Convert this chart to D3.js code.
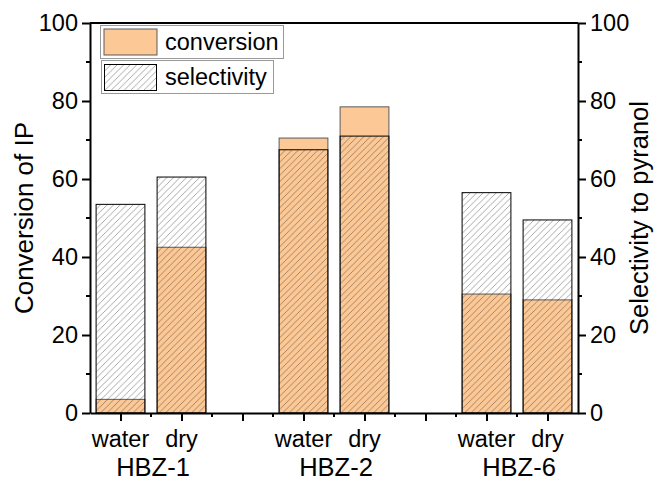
<!DOCTYPE html>
<html>
<head>
<meta charset="utf-8">
<script src="https://cdn.jsdelivr.net/npm/d3@7/dist/d3.min.js"></script>
<style>
  html, body { margin: 0; padding: 0; background: #fff; }
  svg { display: block; }
  text { font-family: "Liberation Sans", Arial, sans-serif; fill: #000; }
</style>
</head>
<body>
<svg id="chart" width="654" height="480"></svg>
<script>
const samples = ["water", "dry", "water", "dry", "water", "dry"];
const positions = [1, 2, 4, 5, 7, 8];
const groups = ["HBZ-1", "HBZ-2", "HBZ-6"];
const groupCenters = [1.5, 4.5, 7.5];
const conversion = [3.5, 42.5, 70.5, 78.5, 30.5, 29.0];
const selectivity = [53.5, 60.5, 67.5, 71.0, 56.5, 49.5];
const yTicks = [0, 20, 40, 60, 80, 100];

const svg = d3.select("#chart");
const L = 90, R = 578, T = 23, B = 413;
const x = d3.scaleLinear().domain([0.5, 8.5]).range([L, R]);
const y = d3.scaleLinear().domain([0, 100]).range([B, T]);
const barW = x(0.8) - x(0);

const defs = svg.append("defs");
const pat = defs.append("pattern")
  .attr("id", "hatch").attr("patternUnits", "userSpaceOnUse")
  .attr("width", 6.5).attr("height", 6.5);
pat.append("path")
  .attr("d", "M-1,7.5 L7.5,-1 M-1,1 L1,-1 M5.5,7.5 L7.5,5.5")
  .attr("stroke", "rgba(0,0,0,0.38)").attr("stroke-width", 0.9).attr("fill", "none");

const g = svg.append("g");

// conversion bars
g.selectAll("rect.conv").data(conversion).join("rect")
  .attr("class", "conv")
  .attr("x", (d, i) => x(positions[i]) - barW / 2)
  .attr("width", barW)
  .attr("y", d => y(d))
  .attr("height", d => y(0) - y(d))
  .attr("fill", "#FCC896")
  .attr("stroke", "#5a5a5a").attr("stroke-width", 1);

// selectivity bars
g.selectAll("rect.sel").data(selectivity).join("rect")
  .attr("class", "sel")
  .attr("x", (d, i) => x(positions[i]) - barW / 2)
  .attr("width", barW)
  .attr("y", d => y(d))
  .attr("height", d => y(0) - y(d))
  .attr("fill", "url(#hatch)")
  .attr("stroke", "#000").attr("stroke-width", 1);

// axes
const fs = 23.5;
const leftAxis = d3.axisLeft(y).tickValues(yTicks).tickSize(8).tickPadding(4);
const rightAxis = d3.axisRight(y).tickValues(yTicks).tickSize(8).tickPadding(4);
const minorY = d3.range(10, 100, 20);

function styleAxis(sel) {
  sel.select(".domain").attr("stroke", "#000").attr("stroke-width", 2);
  sel.selectAll(".tick line").attr("stroke", "#000").attr("stroke-width", 2);
  sel.selectAll(".tick text").style("font-size", fs + "px").style("font-family", "'Liberation Sans', Arial, sans-serif");
}

const la = svg.append("g").attr("transform", `translate(${L},0)`).call(leftAxis.tickSizeOuter(0));
styleAxis(la);
la.selectAll(".minor").data(minorY).join("line").attr("class", "minor")
  .attr("x1", 0).attr("x2", -4).attr("y1", d => y(d)).attr("y2", d => y(d))
  .attr("stroke", "#000").attr("stroke-width", 2);

const ra = svg.append("g").attr("transform", `translate(${R},0)`).call(rightAxis.tickSizeOuter(0));
styleAxis(ra);
ra.selectAll(".minor").data(minorY).join("line").attr("class", "minor")
  .attr("x1", 0).attr("x2", 4).attr("y1", d => y(d)).attr("y2", d => y(d))
  .attr("stroke", "#000").attr("stroke-width", 2);

// bottom axis
const xMajor = d3.range(1, 9);
const xMinor = d3.range(1.5, 8.5, 1);
const ba = svg.append("g").attr("transform", `translate(0,${B})`)
  .call(d3.axisBottom(x).tickValues(xMajor).tickSize(8).tickFormat("").tickSizeOuter(0));
styleAxis(ba);
ba.selectAll(".minor").data(xMinor).join("line").attr("class", "minor")
  .attr("x1", d => x(d)).attr("x2", d => x(d)).attr("y1", 0).attr("y2", 4)
  .attr("stroke", "#000").attr("stroke-width", 2);

// top border
svg.append("line").attr("x1", L).attr("x2", R).attr("y1", T).attr("y2", T)
  .attr("stroke", "#000").attr("stroke-width", 2);

// x labels
svg.selectAll("text.samp").data(samples).join("text").attr("class", "samp")
  .attr("x", (d, i) => x(positions[i])).attr("y", 447)
  .attr("text-anchor", "middle").style("font-size", fs + "px").text(d => d);
svg.selectAll("text.grp").data(groups).join("text").attr("class", "grp")
  .attr("x", (d, i) => x(groupCenters[i]) + 2).attr("y", 476)
  .attr("text-anchor", "middle").style("font-size", "25.5px").text(d => d);

// axis titles
svg.append("text").attr("transform", `translate(33,${(T + B) / 2}) rotate(-90)`)
  .attr("text-anchor", "middle").style("font-size", "26px").text("Conversion of IP");
svg.append("text").attr("transform", `translate(648,${(T + B) / 2}) rotate(-90)`)
  .attr("text-anchor", "middle").style("font-size", "25.5px").text("Selectivity to pyranol");

// legend
const lg = svg.append("g");
lg.append("rect").attr("x", 100.5).attr("y", 25.5).attr("width", 183).attr("height", 33)
  .attr("fill", "#fff").attr("stroke", "#999").attr("stroke-width", 1);
lg.append("rect").attr("x", 104).attr("y", 29).attr("width", 53).attr("height", 26)
  .attr("fill", "#FCC896").attr("stroke", "#5a5a5a").attr("stroke-width", 1);
lg.append("text").attr("x", 165).attr("y", 50).style("font-size", fs + "px").text("conversion");
lg.append("rect").attr("x", 101.5).attr("y", 60.5).attr("width", 172).attr("height", 33)
  .attr("fill", "#fff").attr("stroke", "#999").attr("stroke-width", 1);
lg.append("rect").attr("x", 104.5).attr("y", 64.5).attr("width", 52).attr("height", 26)
  .attr("fill", "url(#hatch)").attr("stroke", "#000").attr("stroke-width", 1);
lg.append("text").attr("x", 165).attr("y", 85).style("font-size", fs + "px").text("selectivity");
</script>
</body>
</html>
